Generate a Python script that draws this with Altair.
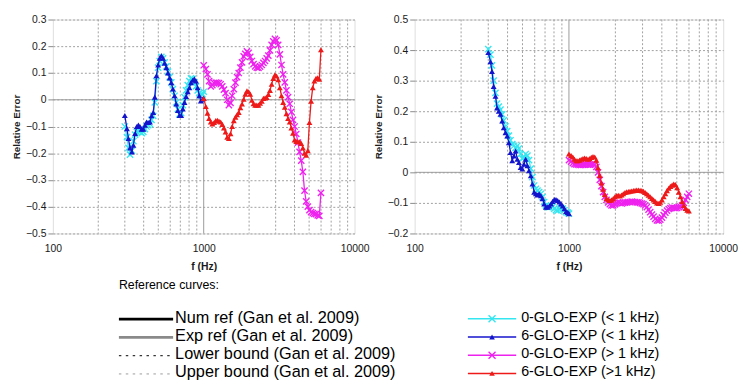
import altair as alt
import pandas as pd

FONT = "Liberation Sans"

# ---------------- data ----------------
F_LO = [300, 310, 317, 325, 334, 342, 351, 360, 369, 378, 388, 398, 408, 418, 429,
        440, 451, 463, 474, 486, 499, 511, 524, 538, 551, 566, 580, 595, 610, 625,
        641, 658, 674, 691, 709, 727, 746, 765, 784, 804, 824, 845, 867, 889, 912,
        935, 958, 983, 1000]

F_HI = [1000, 1033, 1060, 1086, 1114, 1142, 1172, 1201, 1232, 1263, 1296, 1328,
        1362, 1396, 1432, 1469, 1506, 1544, 1584, 1624, 1665, 1707, 1751, 1795,
        1841, 1888, 1936, 1985, 2035, 2087, 2140, 2194, 2250, 2307, 2366, 2427,
        2488, 2551, 2616, 2683, 2751, 2821, 2893, 2967, 3041, 3119, 3198, 3280,
        3363, 3448, 3536, 3626, 3718, 3813, 3909, 4009, 4111, 4216, 4323, 4433,
        4546, 4662, 4779, 4901, 5025, 5153, 5284, 5418, 5556, 5698, 5842, 5990]

# left panel
L_CYAN = [-0.10, -0.14, -0.18, -0.205, -0.19, -0.155, -0.13, -0.12, -0.115, -0.12,
          -0.125, -0.12, -0.11, -0.10, -0.095, -0.09, -0.075, -0.06, -0.01, 0.07,
          0.12, 0.145, 0.16, 0.155, 0.14, 0.125, 0.105, 0.085, 0.065, 0.04,
          0.015, -0.01, -0.035, -0.055, -0.05, -0.02, 0.01, 0.035, 0.055, 0.07,
          0.08, 0.078, 0.065, 0.05, 0.035, 0.025, 0.015, 0.02, 0.03]
L_BLUE = [-0.059, -0.108, -0.145, -0.18, -0.195, -0.17, -0.126, -0.10, -0.095, -0.10,
          -0.11, -0.11, -0.095, -0.083, -0.085, -0.083, -0.06, -0.047, 0.01, 0.09,
          0.13, 0.155, 0.165, 0.155, 0.137, 0.12, 0.10, 0.082, 0.064, 0.04,
          0.015, -0.016, -0.04, -0.059, -0.059, -0.034, -0.01, 0.012, 0.03, 0.045,
          0.064, 0.073, 0.078, 0.07, 0.045, 0.015, -0.004, 0.002, 0.005]
L_MAG = [0.129, 0.115, 0.095, 0.07, 0.05, 0.055, 0.062, 0.064, 0.063, 0.062,
         0.058, 0.05, 0.038, 0.025, 0.0, -0.02, -0.012, 0.015, 0.04, 0.064,
         0.085, 0.10, 0.12, 0.14, 0.162, 0.172, 0.181, 0.175, 0.16, 0.145,
         0.133, 0.125, 0.12, 0.119, 0.124, 0.13, 0.138, 0.145, 0.155, 0.165,
         0.185, 0.205, 0.218, 0.228, 0.222, 0.205, 0.17, 0.13, 0.095, 0.065,
         0.035, 0.01, -0.015, -0.045, -0.075, -0.10, -0.128, -0.16, -0.195, -0.228,
         -0.27, -0.34, -0.38, -0.40, -0.413, -0.42, -0.424, -0.427, -0.428, -0.432,
         -0.434, -0.348]
L_RED = [0.005, -0.025, -0.05, -0.07, -0.083, -0.09, -0.085, -0.078, -0.077, -0.08,
         -0.083, -0.092, -0.105, -0.12, -0.14, -0.145, -0.127, -0.10, -0.078, -0.065,
         -0.056, -0.047, -0.03, -0.016, 0.002, 0.021, 0.033, 0.03, 0.021, -0.002,
         -0.015, -0.02, -0.02, -0.02, -0.013, -0.005, 0.005, 0.007, 0.009, 0.02,
         0.035, 0.058, 0.08, 0.093, 0.089, 0.075, 0.045, 0.015, -0.01, -0.028,
         -0.052, -0.07, -0.083, -0.105, -0.125, -0.15, -0.156, -0.157, -0.157, -0.163,
         -0.18, -0.20, -0.207, -0.19, -0.085, -0.005, 0.045, 0.07, 0.08, 0.082,
         0.077, 0.187]

# right panel
R_CYAN = [0.403, 0.385, 0.35, 0.30, 0.26, 0.225, 0.215, 0.205, 0.19, 0.17,
          0.15, 0.135, 0.12, 0.105, 0.092, 0.087, 0.08, 0.087, 0.078, 0.06,
          0.045, 0.05, 0.06, 0.055, 0.04, 0.012, -0.016, -0.043, -0.054, -0.06,
          -0.065, -0.07, -0.081, -0.097, -0.108, -0.114, -0.114, -0.11, -0.112, -0.119,
          -0.124, -0.125, -0.12, -0.117, -0.119, -0.124, -0.13, -0.132, -0.135]
R_BLUE = [0.392, 0.362, 0.33, 0.281, 0.249, 0.211, 0.20, 0.19, 0.168, 0.146,
          0.13, 0.119, 0.097, 0.065, 0.038, 0.054, 0.07, 0.043, 0.032, 0.016,
          0.011, 0.027, 0.043, 0.022, 0.005, -0.011, -0.038, -0.065, -0.07, -0.074,
          -0.07, -0.076, -0.086, -0.103, -0.114, -0.114, -0.11, -0.103, -0.095, -0.089,
          -0.089, -0.092, -0.097, -0.103, -0.11, -0.119, -0.128, -0.131, -0.135]
R_MAG = [0.04, 0.035, 0.03, 0.027, 0.026, 0.025, 0.024, 0.024, 0.025, 0.025,
         0.026, 0.025, 0.025, 0.026, 0.027, 0.025, 0.018, 0.0, -0.025, -0.045,
         -0.065, -0.08, -0.09, -0.098, -0.104, -0.108, -0.108, -0.105, -0.10, -0.098,
         -0.10, -0.102, -0.10, -0.099, -0.098, -0.097, -0.097, -0.096, -0.097, -0.097,
         -0.098, -0.098, -0.10, -0.102, -0.104, -0.108, -0.114, -0.122, -0.13, -0.138,
         -0.145, -0.152, -0.157, -0.158, -0.155, -0.148, -0.14, -0.132, -0.125, -0.12,
         -0.117, -0.115, -0.116, -0.117, -0.116, -0.114, -0.112, -0.108, -0.10, -0.09,
         -0.08, -0.07]
R_RED = [0.06, 0.055, 0.05, 0.043, 0.038, 0.038, 0.04, 0.043, 0.045, 0.047,
         0.045, 0.043, 0.045, 0.049, 0.052, 0.05, 0.04, 0.015, -0.01, -0.035,
         -0.055, -0.072, -0.085, -0.09, -0.092, -0.09, -0.086, -0.08, -0.076, -0.075,
         -0.077, -0.074, -0.07, -0.066, -0.064, -0.063, -0.062, -0.061, -0.06, -0.059,
         -0.058, -0.058, -0.059, -0.06, -0.062, -0.066, -0.07, -0.075, -0.08, -0.085,
         -0.09, -0.095, -0.10, -0.102, -0.098, -0.09, -0.08, -0.07, -0.06, -0.052,
         -0.046, -0.042, -0.038, -0.04, -0.05, -0.065, -0.08, -0.095, -0.108, -0.118,
         -0.124, -0.126]

SERIES = ["0-GLO-EXP (< 1 kHz)", "6-GLO-EXP (< 1 kHz)",
          "0-GLO-EXP (> 1 kHz)", "6-GLO-EXP (>1 kHz)"]
COLORS = ["#34E6F0", "#1414CC", "#EE22EE", "#EE1A1A"]
MARKERS = ["x", "tri", "x", "tri"]

REF_LABELS = ["Num ref (Gan et al. 2009)", "Exp ref (Gan et al. 2009)",
              "Lower bound (Gan et al. 2009)", "Upper bound (Gan et al. 2009)"]
REF_COLORS = ["#000000", "#8a8a8a", "#000000", "#9a9a9a"]
REF_WIDTHS = [2.8, 2.8, 1.0, 1.0]
REF_DASH = [[1, 0], [1, 0], [2.5, 4.5], [2.5, 4.5]]

GRID_F = [200, 300, 400, 500, 600, 700, 800, 900,
          2000, 3000, 4000, 5000, 6000, 7000, 8000, 9000]
X_TICKS = [100, 1000, 10000]
L_YTICKS = [-0.5, -0.4, -0.3, -0.2, -0.1, 0, 0.1, 0.2, 0.3]
R_YTICKS = [-0.2, -0.1, 0, 0.1, 0.2, 0.3, 0.4, 0.5]

X_PATH = "M-1,-1L1,1M-1,1L1,-1"
TXT = "#1a1a1a"

# ---------------- helpers ----------------
xs = alt.Scale(type="log", domain=[100, 10000], nice=False)

X_AXIS = alt.Axis(values=X_TICKS, format="d", grid=False, ticks=False, tickSize=0,
                  domain=False, labelPadding=15, labelBaseline="middle",
                  labelFlush=False, labelFontSize=10.5, labelColor=TXT,
                  title="f (Hz)", titleFontSize=10.5, titleFontWeight="bold",
                  titleColor=TXT, titleY=34, titleBaseline="middle")


def y_axis(vals):
    return alt.Axis(values=vals,
                    labelExpr="datum.value == 0 ? '0' : format(datum.value, '.1f')",
                    grid=True, gridDash=[2, 2], gridColor="#a0a0a0", gridWidth=1,
                    tickSize=5, tickColor="#8a8a8a", labelPadding=2, domain=False,
                    labelFontSize=10.5, labelColor=TXT,
                    title="Relative Error", titleFontSize=10, titleFontWeight="bold",
                    titleColor=TXT, titleAngle=270, titleX=-36.5, titleY=108.5,
                    titleBaseline="middle", titleAlign="center")


def panel(series_vals, ydom, yticks, width, extra=()):
    ys = alt.Scale(domain=ydom, nice=False, zero=False)
    yax = y_axis(yticks)
    X = lambda: alt.X("f:Q", scale=xs, axis=X_AXIS)
    Y = lambda: alt.Y("v:Q", scale=ys, axis=yax)

    layers = []
    layers.append(alt.Chart(pd.DataFrame({"f": GRID_F})).mark_rule(
        color="#a0a0a0", strokeDash=[2, 2], strokeWidth=1).encode(x=X()))
    layers.append(alt.Chart(pd.DataFrame({"v": [0]})).mark_rule(
        color="#9a9a9a", strokeWidth=1).encode(y=Y()))
    layers.append(alt.Chart(pd.DataFrame({"f": [1000]})).mark_rule(
        color="#9a9a9a", strokeWidth=1).encode(x=X()))

    for name, color, marker, (freqs, vals) in zip(SERIES, COLORS, MARKERS, series_vals):
        df = pd.DataFrame({"f": freqs, "v": vals, "s": name})
        base = alt.Chart(df)
        layers.append(base.mark_line(color=color, strokeWidth=1.3).encode(x=X(), y=Y()))
        if marker == "x":
            pt = base.mark_point(shape=X_PATH, filled=False, color=color,
                                 strokeWidth=1.4, size=40, opacity=1)
        else:
            pt = base.mark_point(shape="triangle-up", filled=True, color=color,
                                 size=36, opacity=1)
        layers.append(pt.encode(x=X(), y=Y()))

    layers.extend(extra)
    return alt.layer(*layers).properties(width=width, height=217)


# ---------------- legend (drawn below, positioned relative to left plot) ----------------
LEG_HEAD = (67, 269)
LEG_LEFT_X = (67, 122, 124)
LEG_RIGHT_X = (421, 470, 445.5, 475)
LEG_ROWS = [302.5, 321, 339.5, 358]

legend = []
legend.append(alt.Chart(pd.DataFrame({"t": ["Reference curves:"]})).mark_text(
    align="left", baseline="middle", fontSize=12.5, font=FONT, color="#000").encode(
    x=alt.value(LEG_HEAD[0]), y=alt.value(LEG_HEAD[1]), text="t:N"))

for lab, c, w, d, ry in zip(REF_LABELS, REF_COLORS, REF_WIDTHS, REF_DASH, LEG_ROWS):
    one = alt.Chart(pd.DataFrame({"t": [lab]}))
    legend.append(one.mark_rule(color=c, strokeWidth=w, strokeDash=d).encode(
        x=alt.value(LEG_LEFT_X[0]), x2=alt.value(LEG_LEFT_X[1]), y=alt.value(ry + 1.5)))
    legend.append(one.mark_text(align="left", baseline="middle", fontSize=16.5,
                                font=FONT, color="#000").encode(
        x=alt.value(LEG_LEFT_X[2]), y=alt.value(ry), text="t:N"))

for name, c, marker, ry in zip(SERIES, COLORS, MARKERS, LEG_ROWS):
    one = alt.Chart(pd.DataFrame({"t": [name]}))
    legend.append(one.mark_rule(color=c, strokeWidth=1.5).encode(
        x=alt.value(LEG_RIGHT_X[0]), x2=alt.value(LEG_RIGHT_X[1]), y=alt.value(ry + 1)))
    if marker == "x":
        pm = one.mark_point(shape=X_PATH, filled=False, color=c, strokeWidth=1.4,
                            size=50, opacity=1)
    else:
        pm = one.mark_point(shape="triangle-up", filled=True, color=c, size=32, opacity=1)
    legend.append(pm.encode(x=alt.value(LEG_RIGHT_X[2]), y=alt.value(ry + 1)))
    legend.append(one.mark_text(align="left", baseline="middle", fontSize=14.5,
                                font=FONT, color="#000").encode(
        x=alt.value(LEG_RIGHT_X[3]), y=alt.value(ry), text="t:N"))

left = panel([(F_LO, L_CYAN), (F_LO, L_BLUE), (F_HI, L_MAG), (F_HI, L_RED)],
             [-0.5, 0.3], L_YTICKS, 306, extra=legend)
right = panel([(F_LO, R_CYAN), (F_LO, R_BLUE), (F_HI, R_MAG), (F_HI, R_RED)],
              [-0.2, 0.5], R_YTICKS, 313)

chart = alt.hconcat(left, right, spacing=61, bounds="flush").properties(
    padding={"left": 3.5, "top": 3, "right": 0, "bottom": 0}
).configure_view(stroke="#808080", strokeWidth=1, fill="white").configure(
    font=FONT, background="white")

chart.save("out.html", embed_options={"renderer": "svg", "actions": False})
